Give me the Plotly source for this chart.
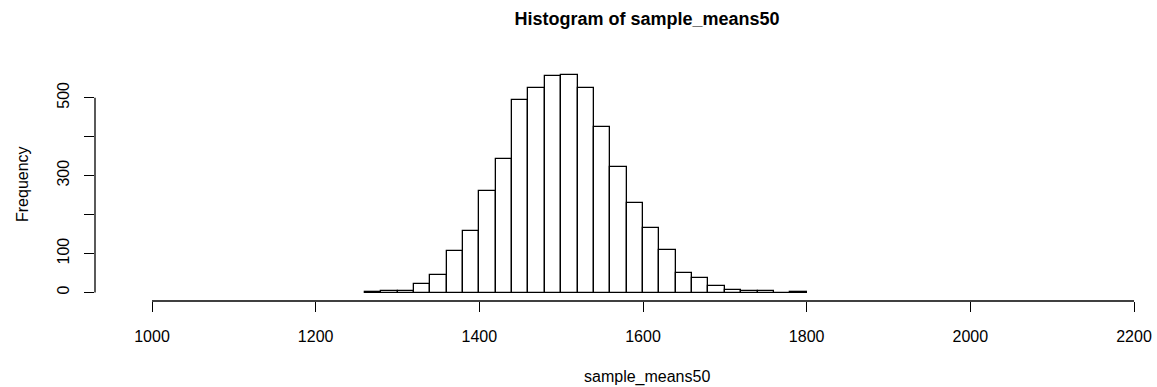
import plotly.graph_objects as go

# Histogram data
bin_left = [1260, 1280, 1300, 1320, 1340, 1360, 1380, 1400, 1420, 1440, 1460, 1480, 1500,
            1520, 1540, 1560, 1580, 1600, 1620, 1640, 1660, 1680, 1700, 1720, 1740, 1760, 1780]
counts = [1, 3, 5, 23, 44, 107, 157, 260, 342, 495, 524, 557, 559,
          525, 425, 322, 229, 166, 108, 50, 38, 16, 7, 3, 3, 0, 1]
bin_width = 20

x_ticks = [1000, 1200, 1400, 1600, 1800, 2000, 2200]
y_ticks = [0, 100, 200, 300, 400, 500]
y_tick_text = ["0", "100", "", "300", "", "500"]

title_text = "Histogram of sample_means50"
x_label = "sample_means50"
y_label = "Frequency"

FONT = "Liberation Sans, Arial, Helvetica, sans-serif"

centers = [b + bin_width / 2 for b in bin_left]

fig = go.Figure()
fig.add_trace(go.Bar(
    x=centers, y=counts, width=[bin_width] * len(counts),
    marker=dict(color="white", line=dict(color="black", width=1.3)),
    hoverinfo="skip", showlegend=False,
))

W, H = 1157, 387
L, R, T, B = 95, 0, 66, 86
CX = 647  # horizontal centre of title / x label (pixels)

fig.update_layout(
    width=W, height=H,
    margin=dict(l=L, r=R, t=T, b=B, pad=0),
    plot_bgcolor="white", paper_bgcolor="white",
    font=dict(family=FONT, color="black", size=16),
    bargap=0,
    title=dict(text="<b>" + title_text + "</b>", font=dict(size=18, family=FONT, color="black"),
               x=CX / W, xref="container", xanchor="center",
               y=1 - 19 / H, yref="container", yanchor="middle"),
    xaxis=dict(range=[930.34, 2228.1], tickvals=x_ticks, ticktext=[str(v) for v in x_ticks],
               ticks="outside", ticklen=10, tickwidth=1, tickcolor="black",
               showline=False, showgrid=False, zeroline=False,
               tickfont=dict(size=16), ticklabelstandoff=11),
    yaxis=dict(range=[-21.8, 581.4], tickvals=y_ticks, ticktext=y_tick_text,
               ticks="outside", ticklen=10, tickwidth=1, tickcolor="black",
               showline=False, showgrid=False, zeroline=False, tickangle=-90,
               tickfont=dict(size=16), ticklabelstandoff=9),
)

# R-style axis lines spanning only the tick range
fig.add_shape(type="line", xref="x", yref="paper", x0=min(x_ticks), x1=max(x_ticks), y0=0, y1=0,
              line=dict(color="black", width=1.3))
fig.add_shape(type="line", xref="paper", yref="y", x0=0, x1=0, y0=min(y_ticks), y1=max(y_ticks),
              line=dict(color="black", width=1.3))

fig.add_annotation(text=x_label, xref="paper", yref="paper", x=(CX - L) / (W - L - R), y=0,
                   xanchor="center", yanchor="middle", yshift=-76, showarrow=False,
                   font=dict(size=16))
fig.add_annotation(text=y_label, xref="paper", yref="paper", x=0, y=(301 - 184) / (H - T - B),
                   xanchor="center", yanchor="middle", xshift=22 - L, textangle=-90,
                   showarrow=False, font=dict(size=16))

fig.write_html("out.html")
